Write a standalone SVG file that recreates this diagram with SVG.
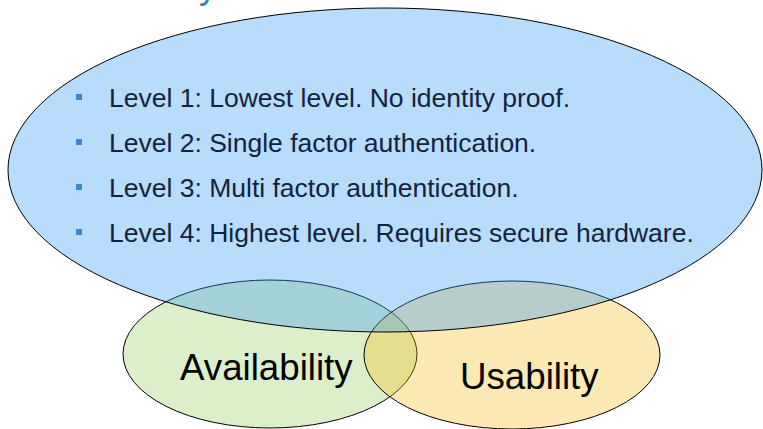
<svg xmlns="http://www.w3.org/2000/svg" width="763" height="429" viewBox="0 0 763 429">
  <style>
    .ring { stroke: #000; stroke-width: 1; }
    .avail { fill: #8eca4e; fill-opacity: 0.3; }
    .usab { fill: #f8b608; fill-opacity: 0.3; }
    .levels { fill: #349bf6; fill-opacity: 0.35; }
    .item { font-family: "Liberation Sans", Arial, sans-serif; font-size: 26.5px; fill: #10243f; }
    .bullet { fill: #3f87cc; }
    .big { font-family: "Liberation Sans", Arial, sans-serif; font-size: 36.7px; fill: #000; }
    .title { font-family: "Liberation Sans", Arial, sans-serif; font-size: 36px; fill: #3c7fc0; }
  </style>
  <rect width="763" height="429" fill="#ffffff"/>

  <!-- heading, mostly above the top edge -->
  <text class="title" x="199" y="-2">y</text>

  <g id="availability">
    <ellipse class="avail ring" cx="270" cy="354" rx="147" ry="74"/>
    <text class="big" x="180" y="380">Availability</text>
  </g>

  <g id="usability">
    <ellipse class="usab ring" cx="512" cy="355" rx="148" ry="74"/>
    <text class="big" x="460" y="389">Usability</text>
  </g>

  <g id="assurance-levels">
    <ellipse class="levels ring" cx="385" cy="170" rx="377" ry="162"/>
    <rect class="bullet" x="76" y="94" width="6" height="6"/>
    <text class="item" x="109" y="107">Level 1: Lowest level. No identity proof.</text>
    <rect class="bullet" x="76" y="139" width="6" height="6"/>
    <text class="item" x="109" y="152">Level 2: Single factor authentication.</text>
    <rect class="bullet" x="76" y="184" width="6" height="6"/>
    <text class="item" x="109" y="197">Level 3: Multi factor authentication.</text>
    <rect class="bullet" x="76" y="229" width="6" height="6"/>
    <text class="item" x="109" y="242">Level 4: Highest level. Requires secure hardware.</text>
  </g>

  <g id="connectors"></g>
</svg>
